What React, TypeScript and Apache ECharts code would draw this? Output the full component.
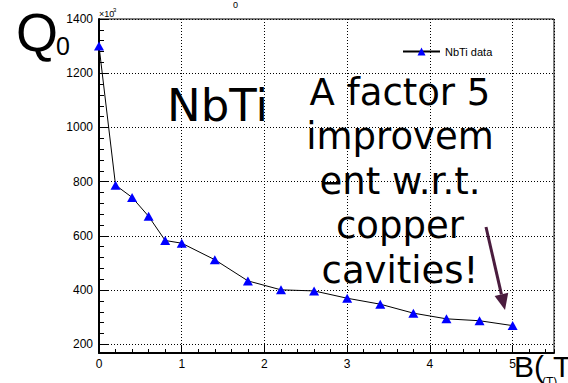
import React, { useEffect, useRef } from "react";
import * as echarts from "echarts";

const fieldB = [0, 0.2, 0.4, 0.6, 0.8, 1.0, 1.4, 1.8, 2.2, 2.6, 3.0, 3.4, 3.8, 4.2, 4.6, 5.0];
const q0Values = [1300, 787, 742, 672, 583, 573, 512, 434, 401, 397, 370, 348, 315, 294, 287, 269];
const seriesName = "NbTi data";
const noteLines = ["A factor 5", "improvem", "ent w.r.t.", "copper", "cavities!"];

const TICK_FONT = "'Liberation Sans Narrow', 'Liberation Sans', Arial, sans-serif";
const HELV = "'Liberation Sans', Arial, sans-serif";
const DEJA = "'DejaVu Sans', sans-serif";
const ARROW = "#4a1c3e";

export default function App() {
  const ref = useRef<HTMLDivElement>(null);
  useEffect(() => {
    if (!ref.current) return;
    const chart = echarts.init(ref.current, null, { renderer: "svg" });
    const data = fieldB.map((b, i) => [b, q0Values[i]]);
    const yMin = 168;
    const yMax = 1400;

    // arrow geometry
    const tail = [486, 227];
    const tip = [505, 310];
    const dx = tip[0] - tail[0];
    const dy = tip[1] - tail[1];
    const len = Math.sqrt(dx * dx + dy * dy);
    const ux = dx / len;
    const uy = dy / len;
    const headL = 16;
    const headW = 7;
    const bx = tip[0] - ux * headL;
    const by = tip[1] - uy * headL;
    const px = uy * headW;
    const py = -ux * headW;

    const noteGraphics = noteLines.map((t, i) => ({
      type: "text",
      x: 400,
      y: 92 + i * 44.5,
      z: 100,
      style: {
        text: t,
        fontSize: 37,
        fontFamily: DEJA,
        fill: "#000",
        textAlign: "center",
        textVerticalAlign: "middle",
      },
    }));

    chart.setOption({
      animation: false,
      backgroundColor: "#fff",
      grid: {
        left: 99,
        top: 19,
        right: 14,
        bottom: 30,
        show: true,
        borderColor: "#000",
        borderWidth: 1,
        backgroundColor: "transparent",
      },
      legend: {
        left: 397,
        top: 41,
        itemWidth: 37,
        itemHeight: 10,
        itemGap: 5,
        textStyle: { fontSize: 11, fontFamily: HELV, color: "#000" },
        data: [seriesName],
      },
      xAxis: [
        {
          type: "value",
          min: 0,
          max: 5.5,
          interval: 1,
          position: "bottom",
          axisLine: { show: true, lineStyle: { color: "#000", width: 2 } },
          axisTick: { show: true, inside: true, length: 8, lineStyle: { color: "#000", width: 1 } },
          axisLabel: {
            show: true,
            showMaxLabel: false,
            margin: 5,
            fontSize: 12,
            fontFamily: TICK_FONT,
            color: "#000",
            formatter: (v: number) => (Math.abs(v - Math.round(v)) < 1e-6 ? String(Math.round(v)) : ""),
          },
          splitLine: { show: true, lineStyle: { color: "#000", width: 1, type: [1, 2] } },
        },
        {
          type: "value",
          min: 0,
          max: 5.5,
          interval: 0.2,
          position: "bottom",
          axisLine: { show: false },
          axisTick: { show: true, inside: true, length: 4, lineStyle: { color: "#000", width: 1 } },
          axisLabel: { show: false },
          splitLine: { show: false },
        },
      ],
      yAxis: [
        {
          type: "value",
          min: yMin,
          max: yMax,
          splitNumber: 6,
          position: "left",
          axisLine: { show: true, lineStyle: { color: "#000", width: 2 } },
          axisTick: { show: true, inside: true, length: 10, lineStyle: { color: "#000", width: 1 } },
          axisLabel: {
            show: true,
            showMinLabel: false,
            margin: 6,
            fontSize: 12,
            fontFamily: TICK_FONT,
            color: "#000",
            formatter: (v: number) => String(Math.round(v)),
          },
          splitLine: { show: true, lineStyle: { color: "#000", width: 1, type: [1, 2] } },
        },
        {
          type: "value",
          min: yMin,
          max: yMax,
          splitNumber: 30,
          minInterval: 40,
          maxInterval: 40,
          position: "left",
          axisLine: { show: false },
          axisTick: { show: true, inside: true, length: 5, lineStyle: { color: "#000", width: 1 } },
          axisLabel: { show: false },
          splitLine: { show: false },
        },
      ],
      series: [
        {
          name: seriesName,
          type: "line",
          xAxisIndex: 0,
          yAxisIndex: 0,
          data,
          symbol: "triangle",
          symbolSize: [10, 9],
          itemStyle: { color: "#0000ff" },
          lineStyle: { color: "#000", width: 1 },
          z: 5,
        },
      ],
      graphic: [
        {
          type: "text",
          x: 16,
          y: 32,
          style: { text: "Q", fontSize: 54, fontFamily: HELV, fill: "#000", textVerticalAlign: "middle" },
        },
        {
          type: "text",
          x: 56,
          y: 46,
          style: { text: "0", fontSize: 25, fontFamily: HELV, fill: "#000", textVerticalAlign: "middle" },
        },
        {
          type: "text",
          x: 99,
          y: 14,
          style: { text: "×10", fontSize: 9, fontFamily: HELV, fill: "#000", textVerticalAlign: "middle" },
        },
        {
          type: "text",
          x: 113,
          y: 10,
          style: { text: "3", fontSize: 6, fontFamily: HELV, fill: "#000", textVerticalAlign: "middle" },
        },
        {
          type: "text",
          x: 233,
          y: 5,
          style: { text: "0", fontSize: 9, fontFamily: HELV, fill: "#000", textVerticalAlign: "middle" },
        },
        {
          type: "text",
          x: 217.5,
          y: 105,
          z: 100,
          style: {
            text: "NbTi",
            fontSize: 45,
            fontFamily: DEJA,
            fill: "#000",
            textAlign: "center",
            textVerticalAlign: "middle",
          },
        },
        ...noteGraphics,
        {
          type: "line",
          z: 100,
          shape: { x1: tail[0], y1: tail[1], x2: bx, y2: by },
          style: { stroke: ARROW, lineWidth: 3 },
        },
        {
          type: "polygon",
          z: 100,
          shape: {
            points: [
              [tip[0], tip[1]],
              [bx + px, by + py],
              [bx - px, by - py],
            ],
          },
          style: { fill: ARROW },
        },
        {
          type: "text",
          x: 514,
          y: 366.5,
          z: 100,
          style: { text: "B(", fontSize: 30, fontFamily: HELV, fill: "#000", textVerticalAlign: "middle" },
        },
        {
          type: "text",
          x: 542,
          y: 382,
          z: 100,
          style: { text: "(T)", fontSize: 12, fontFamily: HELV, fill: "#000", textVerticalAlign: "middle" },
        },
        {
          type: "text",
          x: 553,
          y: 366.5,
          z: 100,
          style: { text: "T", fontSize: 30, fontFamily: HELV, fill: "#000", textVerticalAlign: "middle" },
        },
      ],
    });
    return () => chart.dispose();
  }, []);
  return (
    <div
      ref={ref}
      style={{ position: "fixed", left: 0, top: 0, width: 568, height: 383, background: "#fff" }}
    />
  );
}
